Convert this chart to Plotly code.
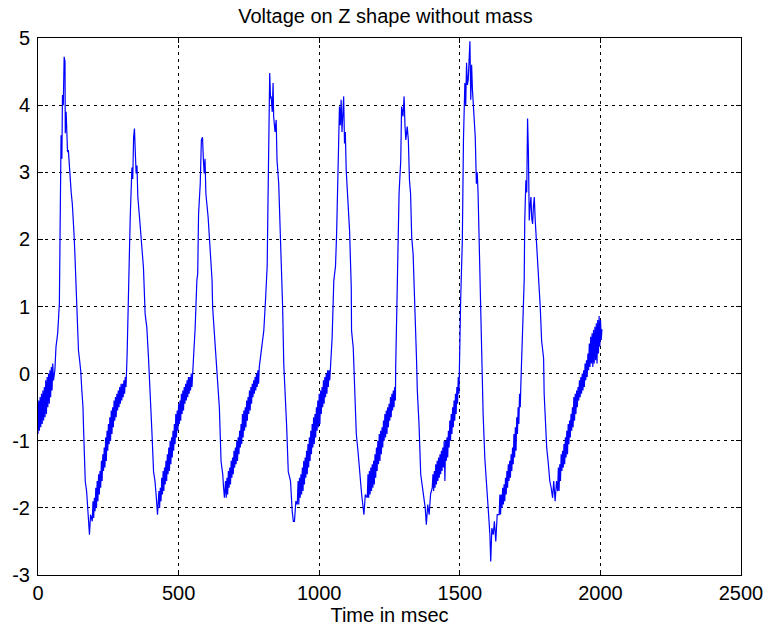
import plotly.graph_objects as go

# ---- data (time in msec, voltage) ----
# Smooth(ish) spike/decay parts of each cycle: explicit time / value pairs
peak1_t = [60, 64, 70, 76, 78, 82, 85, 87, 90, 93, 96, 97, 100, 102, 105, 108, 111, 114, 118, 122, 126, 128, 131, 134,
           138, 141, 144, 148, 152, 156, 160, 162, 166, 168, 173, 176, 180, 183, 187, 191]
peak1_v = [0.05, 0.4, 0.6, 1.04, 1.83, 3.55, 3.2, 4.15, 4.0, 4.72, 4.65, 3.58, 3.9, 3.7, 3.3, 3.33, 3.1, 2.98, 2.7, 2.53, 2.3, 2.09, 1.8, 1.46,
           0.94, 0.6, 0.34, 0.2, 0.04, -0.26, -0.5, -0.81, -1.3, -1.6, -1.76, -2.0, -2.2, -2.4, -2.1, -2.2]

peak2_t = [317, 319, 324, 328, 334, 337, 340, 343, 346, 349, 352, 355, 361, 367, 375, 381, 387, 393, 399, 405, 411, 416, 420, 425]
peak2_v = [0.3, 0.74, 1.45, 2.33, 3.07, 2.9, 3.52, 3.65, 3.3, 2.98, 3.1, 2.63, 2.33, 2.03, 1.58, 0.89, 0.69, 0.23, -0.26, -0.86, -1.46, -1.6, -1.8, -2.1]

peak3_t = [553, 559, 565, 568, 571, 577, 581, 585, 588, 591, 594, 597, 605, 610, 613, 619, 621, 627, 633, 640, 645, 651, 657, 660, 663]
peak3_v = [0.23, 0.69, 1.39, 1.49, 2.38, 2.83, 3.48, 3.52, 3.2, 2.98, 3.2, 2.68, 2.33, 1.98, 1.73, 1.39, 0.99, 0.64, 0.23, -0.11, -0.51, -1.31, -1.5, -1.7, -1.85]

peak4_t = [791, 803, 809, 815, 818, 820, 822, 824, 827, 829, 833, 836, 838, 843, 847, 850, 856, 859, 865, 868, 870, 874, 877, 880, 884, 890,
           898, 904, 908, 912, 917, 922]
peak4_v = [0.23, 0.64, 1.09, 1.6, 2.58, 3.23, 4.18, 4.48, 4.1, 4.13, 3.9, 4.33, 3.83, 3.6, 3.78, 3.18, 2.83, 2.48, 1.73, 1.24, 0.99, 0.14, -0.11, -0.4, -0.76, -1.46,
           -1.6, -2.05, -2.2, -2.2, -1.9, -1.95]

peak5_t = [1040, 1046, 1052, 1058, 1062, 1066, 1072, 1075, 1078, 1081, 1083, 1087, 1090, 1093, 1096, 1103, 1106, 1108, 1114, 1115, 1121, 1126,
           1132, 1138, 1144, 1151, 1155, 1159, 1164, 1171]
peak5_v = [0.1, 0.54, 1.39, 1.6, 2.09, 2.98, 3.98, 3.7, 4.08, 3.6, 3.83, 4.13, 3.43, 3.6, 3.03, 2.58, 2.4, 2.13, 1.28, 0.64, 0.39, -0.11,
           -0.9, -1.16, -1.5, -1.8, -1.95, -2.1, -1.8, -1.85]

peak6_t = [1272, 1275, 1278, 1284, 1290, 1293, 1298, 1302, 1305, 1308, 1313, 1317, 1321, 1325, 1329, 1334, 1337, 1341, 1346, 1349, 1355,
           1361, 1367, 1373, 1377, 1381, 1386, 1391, 1396, 1402]
peak6_v = [0.09, 0.64, 1.39, 2.68, 3.18, 3.98, 3.83, 4.13, 3.7, 3.48, 3.68, 3.48, 2.88, 2.68, 2.03, 1.78, 1.39, 0.99, 0.23, -0.26, -0.76,
           -1.5, -1.7, -1.9, -2.0, -2.25, -1.95, -2.1, -1.8, -1.7]

peak7_t = [1500, 1503, 1509, 1513, 1518, 1521, 1524, 1527, 1530, 1533, 1536, 1539, 1542, 1545, 1551, 1555, 1559, 1562, 1565, 1571, 1575,
           1578, 1583, 1589, 1598, 1604, 1607, 1610, 1614, 1619, 1623, 1628, 1633, 1640]
peak7_v = [0.49, 1.09, 1.98, 3.48, 4.33, 4.0, 4.63, 4.3, 4.38, 4.6, 4.95, 4.08, 4.6, 4.23, 3.68, 3.52, 2.83, 3.0, 2.68, 1.43, 1.04,
           -0.11, -0.61, -1.26, -1.75, -2.2, -2.4, -2.8, -2.3, -2.4, -2.2, -2.5, -2.1, -2.1]

peak8_t = [1723, 1729, 1731, 1735, 1738, 1741, 1744, 1747, 1750, 1753, 1756, 1759, 1762, 1765, 1768, 1771, 1777, 1782, 1786, 1791, 1798,
           1800, 1804, 1809, 1815, 1820, 1825, 1830, 1834, 1839, 1844, 1848]
peak8_v = [0.6, 1.39, 2.28, 2.88, 2.7, 3.8, 3.3, 2.28, 2.5, 2.63, 2.3, 2.23, 2.5, 2.63, 2.3, 2.08, 1.83, 1.43, 1.0, 0.49, 0.23,
           -0.3, -0.7, -1.1, -1.35, -1.6, -1.7, -1.85, -1.6, -1.9, -1.6, -1.75]

# Noisy slow-rise parts, sampled every 2.5 msec from their start time
sample_step_ms = 2.5
ramp0_start = 0.0
ramp0_v = [-0.9, -0.4, -0.85, -0.35, -0.8, -0.3, -0.75, -0.25, -0.7, -0.2, -0.65, -0.1, -0.6, -0.05, -0.5, 0.0, -0.45, 0.05,
           -0.35, 0.1, -0.25, 0.15, -0.1]
ramp1_start = 193.0
ramp1_v = [-2.2, -1.9, -2.15, -1.85, -2.05, -1.7, -2.0, -1.6, -1.9, -1.5, -1.8, -1.45, -1.7, -1.3, -1.6, -1.2, -1.45, -1.1,
           -1.4, -0.95, -1.3, -0.85, -1.15, -0.75, -1.05, -0.65, -1.0, -0.55, -0.9, -0.5, -0.8, -0.4, -0.7, -0.35, -0.65,
           -0.3, -0.55, -0.25, -0.5, -0.2, -0.45, -0.15, -0.4, -0.15, -0.35, -0.1, -0.3, -0.05, -0.2]
ramp2_start = 430.0
ramp2_v = [-1.75, -2.0, -1.7, -1.9, -1.55, -1.8, -1.45, -1.75, -1.4, -1.65, -1.3, -1.6, -1.2, -1.5, -1.1, -1.45, -1.0, -1.35,
           -0.95, -1.25, -0.85, -1.15, -0.75, -1.05, -0.6, -0.95, -0.55, -0.85, -0.45, -0.75, -0.4, -0.7, -0.3, -0.6, -0.25,
           -0.55, -0.2, -0.45, -0.15, -0.4, -0.1, -0.35, -0.05, -0.3, -0.05, -0.25, 0.0, -0.2]
ramp3_start = 667.0
ramp3_v = [-1.6, -1.85, -1.55, -1.8, -1.45, -1.7, -1.4, -1.65, -1.3, -1.55, -1.25, -1.5, -1.15, -1.4, -1.1, -1.35, -1.0, -1.3,
           -0.95, -1.2, -0.85, -1.1, -0.75, -1.05, -0.6, -0.95, -0.55, -0.85, -0.5, -0.8, -0.4, -0.7, -0.35, -0.6, -0.25,
           -0.55, -0.2, -0.45, -0.15, -0.35, -0.1, -0.3, -0.05, -0.25, 0.0, -0.2, 0.05, -0.15, 0.1]
ramp4_start = 925.0
ramp4_v = [-1.6, -1.95, -1.55, -1.85, -1.5, -1.8, -1.4, -1.75, -1.3, -1.65, -1.25, -1.55, -1.15, -1.5, -1.05, -1.4, -0.95, -1.3,
           -0.85, -1.2, -0.75, -1.1, -0.65, -1.05, -0.6, -0.95, -0.5, -0.85, -0.4, -0.8, -0.3, -0.75, -0.25, -0.6, -0.2, -0.5,
           -0.1, -0.45, -0.05, -0.35, 0.0, -0.3, 0.05, -0.2, 0.05, -0.1]
ramp5_start = 1173.5
ramp5_v = [-1.5, -1.85, -1.45, -1.8, -1.4, -1.75, -1.35, -1.7, -1.3, -1.65, -1.2, -1.55, -1.1, -1.45, -1.0, -1.35, -0.9, -1.3,
           -0.85, -1.2, -0.8, -1.1, -0.7, -1.0, -0.6, -0.95, -0.55, -0.9, -0.5, -0.8, -0.45, -0.7, -0.35, -0.65, -0.3, -0.55,
           -0.25, -0.5, -0.2, -0.4]
ramp6_start = 1404.5
ramp6_v = [-1.5, -1.75, -1.45, -1.7, -1.35, -1.65, -1.3, -1.6, -1.25, -1.55, -1.2, -1.5, -1.15, -1.45, -1.1, -1.4, -1.0, -1.6,
           -1.0, -1.3, -0.95, -1.25, -0.85, -1.1, -0.7, -1.0, -0.6, -0.9, -0.5, -0.8, -0.4, -0.7, -0.3, -0.6, -0.2, -0.45,
           -0.05, -0.3]
ramp7_start = 1642.5
ramp7_v = [-1.8, -2.1, -1.8, -2.0, -1.7, -1.95, -1.65, -1.9, -1.55, -1.8, -1.45, -1.7, -1.35, -1.6, -1.3, -1.55, -1.2, -1.45,
           -1.1, -1.35, -0.9, -1.25, -0.8, -1.15, -0.65, -0.9, -0.5, -0.75, -0.3, -0.5, -0.11]
ramp8_start = 1850.5
ramp8_v = [-1.4, -1.75, -1.35, -1.6, -1.2, -1.45, -1.15, -1.4, -1.05, -1.35, -0.95, -1.25, -0.85, -1.2, -0.75, -1.05, -0.7, -0.95,
           -0.6, -0.85, -0.5, -0.8, -0.35, -0.7, -0.3, -0.6, -0.25, -0.5, -0.2, -0.4, -0.1, -0.35, -0.05, -0.3, 0.0, -0.25,
           0.05, -0.2, 0.15, -0.1, 0.2, -0.05, 0.3, 0.05, 0.45, 0.1, 0.55, 0.15, 0.6, 0.1, 0.65, 0.15, 0.7, 0.2, 0.75, 0.15,
           0.8, 0.3, 0.86, 0.4, 0.8, 0.5, 0.66]

x_ticks = [0, 500, 1000, 1500, 2000, 2500]
y_ticks = [-3, -2, -1, 0, 1, 2, 3, 4, 5]


def ramp_times(start, values):
    return [start + sample_step_ms * i for i in range(len(values))]


pieces = [
    (ramp_times(ramp0_start, ramp0_v), ramp0_v), (peak1_t, peak1_v),
    (ramp_times(ramp1_start, ramp1_v), ramp1_v), (peak2_t, peak2_v),
    (ramp_times(ramp2_start, ramp2_v), ramp2_v), (peak3_t, peak3_v),
    (ramp_times(ramp3_start, ramp3_v), ramp3_v), (peak4_t, peak4_v),
    (ramp_times(ramp4_start, ramp4_v), ramp4_v), (peak5_t, peak5_v),
    (ramp_times(ramp5_start, ramp5_v), ramp5_v), (peak6_t, peak6_v),
    (ramp_times(ramp6_start, ramp6_v), ramp6_v), (peak7_t, peak7_v),
    (ramp_times(ramp7_start, ramp7_v), ramp7_v), (peak8_t, peak8_v),
    (ramp_times(ramp8_start, ramp8_v), ramp8_v),
]
time_ms, voltage = [], []
for t, v in pieces:
    time_ms += t
    voltage += v

fig = go.Figure()
fig.add_trace(go.Scatter(x=time_ms, y=voltage, mode="lines",
                         line=dict(color="#0000FF", width=1.2), showlegend=False))

font = "Liberation Sans, Arial, sans-serif"
axis_common = dict(showline=True, linecolor="black", linewidth=1, mirror="ticks",
                   ticks="inside", ticklen=5, tickcolor="black",
                   showgrid=True, gridcolor="black", gridwidth=1, griddash="3px,4px",
                   zeroline=False, automargin=False)

fig.update_layout(
    width=771, height=637,
    paper_bgcolor="white", plot_bgcolor="white",
    margin=dict(l=38, r=30, t=38, b=62),
    title=dict(text="Voltage on Z shape without mass", x=0.5, xanchor="center",
               y=1 - 16 / 637, yanchor="middle",
               font=dict(family=font, size=20, color="black")),
    xaxis=dict(range=[0, 2500], tickvals=x_ticks, ticktext=[str(v) for v in x_ticks],
               tickfont=dict(family=font, size=20, color="black"), ticklabelstandoff=0,
               title=dict(text="Time in msec", font=dict(family=font, size=20, color="black"), standoff=4),
               **axis_common),
    yaxis=dict(range=[-3, 5], tickvals=y_ticks, ticktext=[str(v) for v in y_ticks],
               tickfont=dict(family=font, size=20, color="black"), ticklabelstandoff=3,
               **axis_common),
)

fig.write_html("out.html")
